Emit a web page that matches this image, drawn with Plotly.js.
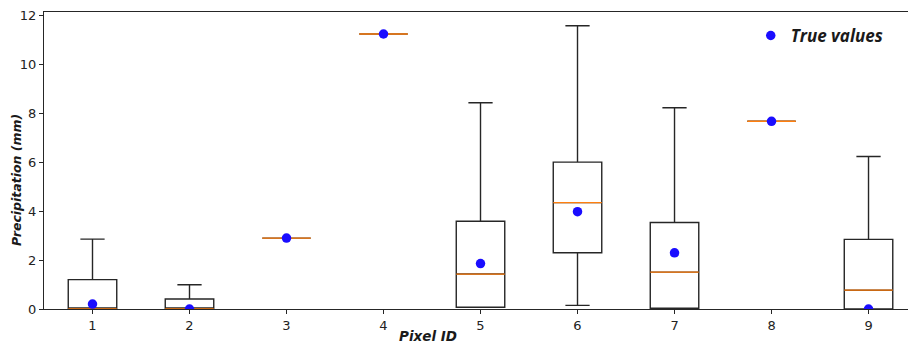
<!DOCTYPE html>
<html>
<head>
<meta charset="utf-8">
<script src="https://cdn.plot.ly/plotly-3.0.1.min.js"></script>
<style>
  html, body { margin: 0; padding: 0; background: #fff; }
  #chart { width: 908px; height: 344px; }
</style>
</head>
<body>
<div id="chart"></div>
<script>
// Pixel identifiers along the x axis
const pixelIds = [1, 2, 3, 4, 5, 6, 7, 8, 9];

// Ensemble precipitation statistics per pixel (mm)
const lowerWhisker = [0.00, 0.00, 2.90, 11.25, 0.07, 0.15, 0.03, 7.68, 0.00];
const q1Values     = [0.00, 0.00, 2.90, 11.25, 0.07, 2.30, 0.03, 7.68, 0.00];
const medianValues = [0.00, 0.00, 2.90, 11.25, 1.43, 4.35, 1.51, 7.68, 0.77];
const q3Values     = [1.20, 0.41, 2.90, 11.25, 3.59, 6.01, 3.54, 7.68, 2.85];
const upperWhisker = [2.86, 0.99, 2.90, 11.25, 8.44, 11.59, 8.23, 7.68, 6.24];

// Observed precipitation per pixel (mm)
const trueValues   = [0.20, 0.00, 2.90, 11.25, 1.86, 3.98, 2.30, 7.68, 0.00];

const lineDark = '#262626';
const titleFont = { family: '"DejaVu Sans", sans-serif', size: 13.5, color: '#1a1a1a', weight: 'bold', style: 'italic' };

const boxes = {
  type: 'box',
  x: pixelIds,
  q1: q1Values,
  median: medianValues,
  q3: q3Values,
  lowerfence: lowerWhisker,
  upperfence: upperWhisker,
  width: 0.5,
  whiskerwidth: 0.5,
  boxpoints: false,
  fillcolor: 'rgba(255,255,255,0)',
  line: { color: lineDark, width: 1.4 },
  showlegend: false,
  hoverinfo: 'skip'
};

// Orange median bars drawn over each box
const medians = {
  type: 'box',
  x: pixelIds,
  q1: medianValues,
  median: medianValues,
  q3: medianValues,
  lowerfence: medianValues,
  upperfence: medianValues,
  width: 0.5,
  whiskerwidth: 0,
  boxpoints: false,
  fillcolor: 'rgba(255,255,255,0)',
  line: { color: '#ff7f0e', width: 1.3 },
  showlegend: false,
  hoverinfo: 'skip'
};

const truth = {
  type: 'scatter',
  mode: 'markers',
  x: pixelIds,
  y: trueValues,
  name: 'True values',
  marker: { color: '#1a0dff', size: 9.5, line: { width: 0 } },
  cliponaxis: true
};

const layout = {
  width: 908,
  height: 344,
  margin: { l: 44, r: 0, t: 12, b: 35 },
  paper_bgcolor: '#ffffff',
  plot_bgcolor: '#ffffff',
  font: { family: '"DejaVu Sans", sans-serif', size: 13, color: '#222' },
  showlegend: true,
  legend: {
    x: 0.818, y: 0.98, xanchor: 'left', yanchor: 'top',
    bgcolor: 'rgba(255,255,255,0)',
    font: { family: '"Open Sans", Lato, sans-serif', size: 17, color: '#1a1a1a', weight: 'bold', style: 'italic' },
    itemwidth: 30
  },
  xaxis: {
    range: [0.5, 9.407],
    tickmode: 'array',
    tickvals: pixelIds,
    ticktext: pixelIds.map(String),
    ticks: 'outside', ticklen: 4, tickwidth: 1, tickcolor: lineDark,
    showline: true, linecolor: lineDark, linewidth: 1.2, mirror: true,
    showgrid: false, zeroline: false,
    tickfont: { size: 13, color: '#222' }
  },
  yaxis: {
    range: [0, 12.15],
    dtick: 2,
    ticks: 'outside', ticklen: 4, tickwidth: 1, tickcolor: lineDark,
    showline: true, linecolor: lineDark, linewidth: 1.2,
    showgrid: false, zeroline: false,
    tickfont: { size: 13, color: '#222' }
  },
  // Axis titles
  annotations: [
    {
      text: 'Pixel ID', xref: 'paper', yref: 'paper',
      x: 0.4444, y: -0.0916, xanchor: 'center', yanchor: 'middle',
      borderpad: 0, showarrow: false, font: titleFont
    },
    {
      text: 'Precipitation (mm)', xref: 'paper', yref: 'paper',
      x: -0.0324, y: 0.4343, xanchor: 'center', yanchor: 'middle',
      textangle: -90, borderpad: 0, showarrow: false, font: { ...titleFont, size: 12.5 }
    }
  ]
};

Plotly.newPlot('chart', [boxes, medians, truth], layout, { displayModeBar: false, staticPlot: true });
</script>
</body>
</html>
